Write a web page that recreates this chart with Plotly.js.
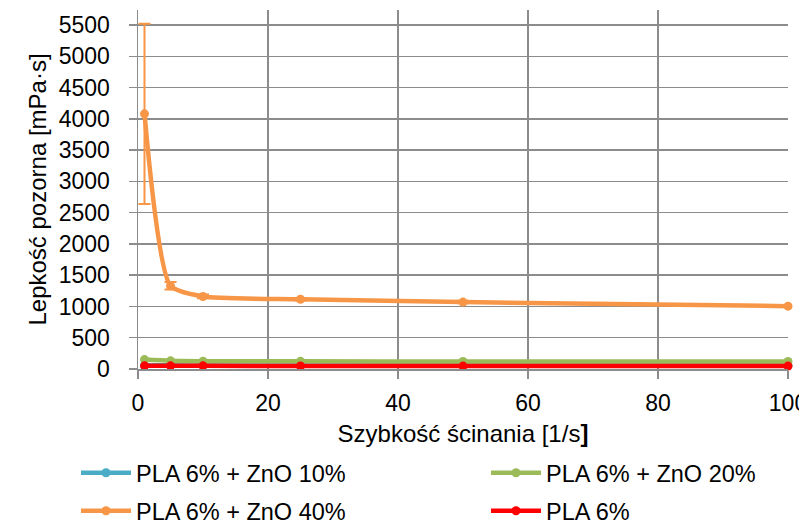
<!DOCTYPE html>
<html><head><meta charset="utf-8">
<script src="https://cdn.plot.ly/plotly-3.0.1.min.js"></script>
<style>html,body{margin:0;padding:0;background:#fff}#chart{width:799px;height:524px}</style>
</head><body><div id="chart"></div>
<script>
const shearRate = [1, 5, 10, 25, 50, 100];
const zno10 = [60, 58, 57, 56, 55, 55];
const zno20 = [150, 130, 125, 122, 120, 120];
const zno40 = [4080, 1330, 1160, 1115, 1070, 1005];
const zno40Err = [1440, 60, 30, 20, 20, 15];
const pla6 = [50, 50, 50, 48, 47, 47];
const names = ['PLA 6% + ZnO 10%', 'PLA 6% + ZnO 20%', 'PLA 6% + ZnO 40%', 'PLA 6%'];
const colors = ['#4BACC6', '#9BBB59', '#F79646', '#FF0000'];
const yTicks = [0,500,1000,1500,2000,2500,3000,3500,4000,4500,5000,5500];
const xTicks = [0,20,40,60,80,100];

function tr(y, i, legend, err) {
  const t = {
    x: shearRate, y: y, name: names[i], type: 'scatter', mode: 'lines+markers',
    line: {color: colors[i], width: 4.5, shape: 'spline', smoothing: 0.6},
    marker: {color: colors[i], size: 9},
    legend: legend, cliponaxis: false
  };
  if (err) t.error_y = {type: 'data', array: err, visible: true, color: colors[i], thickness: 2, width: 6};
  return t;
}
const data = [
  tr(zno10, 0, 'legend'),
  tr(zno20, 1, 'legend2'),
  tr(zno40, 2, 'legend3', zno40Err),
  tr(pla6, 3, 'legend4')
];
const F = 'Liberation Sans, Arial, sans-serif';
function lg(x, y) {
  return {orientation: 'h', xref: 'container', yref: 'container', x: x, y: y,
    xanchor: 'left', yanchor: 'middle',
    font: {family: F, size: 23.5, color: '#000'},
    itemwidth: 50, bgcolor: 'rgba(0,0,0,0)', borderwidth: 0};
}
const tickFont = {family: F, size: 23, color: '#000'};
const titleFont = {family: F, size: 24, color: '#000'};
const axisCommon = {showgrid: true, gridcolor: '#8c8c8c', gridwidth: 1.5,
  zeroline: false, showline: true, linecolor: '#8c8c8c', linewidth: 1.5,
  ticks: 'outside', ticklen: 8, tickcolor: '#8c8c8c', tickwidth: 1.5,
  tickfont: tickFont, automargin: false};
const layout = {
  width: 799, height: 524,
  margin: {l: 138, r: 11, t: 10, b: 155},
  paper_bgcolor: '#fff', plot_bgcolor: '#fff',
  font: {family: F, size: 23, color: '#000'},
  xaxis: Object.assign({}, axisCommon, {range: [0, 100], tickvals: xTicks, ticktext: xTicks.map(String),
    ticklabelstandoff: 5, ticklabeloverflow: 'allow',
    title: {text: 'Szybkość ścinania [1/s<b>]</b>', font: titleFont, standoff: 10}}),
  yaxis: Object.assign({}, axisCommon, {range: [0, 5740], tickvals: yTicks, ticktext: yTicks.map(String),
    ticklabelstandoff: 14,
    title: {text: 'Lepkość pozorna [mPa·s]', font: titleFont, standoff: 5}}),
  showlegend: true,
  legend: lg(76/799, 1 - 473/524),
  legend2: lg(486/799, 1 - 473/524),
  legend3: lg(76/799, 1 - 511/524),
  legend4: lg(486/799, 1 - 511/524)
};
Plotly.newPlot('chart', data, layout, {displayModeBar: false, staticPlot: true});
</script></body></html>
